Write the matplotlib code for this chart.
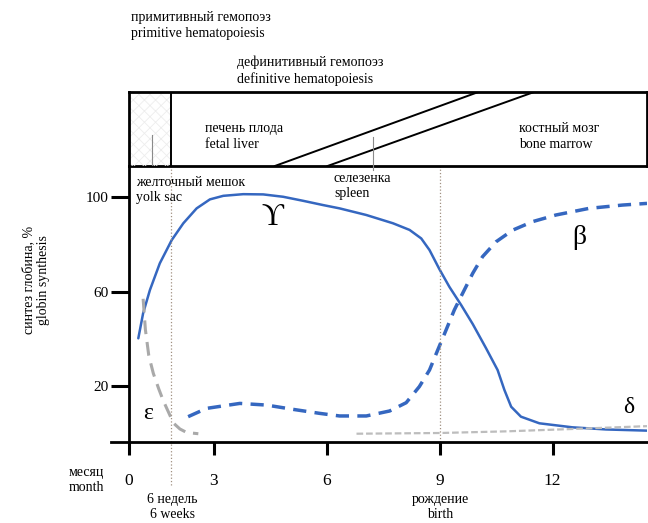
import numpy as np
import matplotlib.pyplot as plt

# ===============================
# data (months, % globin synthesis)
# ===============================
gamma_month = [0.33, 0.50, 0.74, 1.09, 1.51, 1.92, 2.39, 2.86, 3.25, 3.78, 4.31, 4.84,
               5.37, 5.90, 6.34, 7.05, 7.76, 8.20, 8.51, 8.73, 8.99, 9.26, 9.57, 9.88,
               10.23, 10.54, 10.72, 10.90, 11.16, 11.65, 12.53, 13.42, 14.51]
gamma_val = [40.3, 50.9, 60.7, 72.0, 81.8, 88.9, 95.2, 99.0, 100.5, 101.2, 101.1, 100.1,
             98.4, 96.6, 95.2, 92.4, 88.9, 86.1, 82.5, 77.6, 69.6, 62.0, 54.4, 46.3,
             36.2, 26.9, 18.5, 11.4, 7.2, 4.4, 2.7, 1.8, 1.3]

beta_month = [2.09, 2.74, 3.69, 4.40, 5.10, 5.81, 6.34, 7.05, 7.67, 8.11, 8.46, 8.73,
              8.95, 9.17, 9.39, 9.61, 9.88, 10.14, 10.50, 10.94, 11.47, 12.09, 12.97,
              13.86, 14.51]
beta_val = [7.2, 10.7, 12.8, 12.1, 10.3, 8.6, 7.5, 7.5, 9.6, 13.1, 19.9, 26.9,
            35.4, 43.8, 52.3, 59.3, 67.8, 74.8, 81.1, 86.0, 89.6, 92.4, 95.2,
            96.6, 97.3]

eps_month = [0.50, 0.58, 0.70, 0.86, 1.05, 1.21, 1.40, 1.57, 1.80, 2.04, 2.45]
eps_val = [57.0, 44.0, 33.0, 25.5, 19.0, 14.0, 9.0, 4.5, 2.0, 0.5, 0.0]

delta_month = [6.79, 9.00, 10.77, 12.53, 14.51]
delta_val = [0.0, 0.3, 1.0, 2.0, 3.2]

x_ticks = [0, 3, 6, 9, 12]
y_ticks = [20, 60, 100]

six_weeks = 1.5
birth = 9
# organ boundaries in the top strip: (month at bottom edge, month at top edge)
liver_spleen = (4.62, 10.03)
spleen_marrow = (6.02, 11.51)
yolk_pointer = 0.80
spleen_pointer = 7.22

# ===============================
# layout helpers (pixels -> figure fraction)
# ===============================
W, H = 648, 523
def fx(x):
    return x / W
def fy(y):
    return 1 - y / H

R = 85 / 113  # first 3 months drawn compressed
def fwd(m):
    m = np.asarray(m, float)
    return np.where(m < 3, m * R, 3 * R + (m - 3))
def inv(u):
    u = np.asarray(u, float)
    return np.where(u < 3 * R, u / R, u - 3 * R + 3)

SERIF = ["Liberation Serif", "DejaVu Serif"]
plt.rcParams["font.family"] = SERIF
plt.rcParams["hatch.linewidth"] = 0.6
BLUE = "#3567c0"
XMIN, XMAX = -0.635, 14.51

fig = plt.figure(figsize=(6.48, 5.23), dpi=100)
ax = fig.add_axes([fx(111), fy(442), fx(647) - fx(111), fy(166) - fy(442)])
box = fig.add_axes([fx(111), fy(166), fx(647) - fx(111), fy(92) - fy(166)])
for a in (ax, box):
    a.set_xscale("function", functions=(fwd, inv))
    a.set_xlim(XMIN, XMAX)
    a.patch.set_alpha(0)

# ===============================
# main chart
# ===============================
ax.set_ylim(-3.5, 113.1)
ax.plot(gamma_month, gamma_val, color=BLUE, lw=1.8, solid_joinstyle="round",
        solid_capstyle="round")
ax.plot(beta_month, beta_val, color=BLUE, lw=2.5, dashes=(3.8, 2.4),
        dash_joinstyle="round")
ax.plot(eps_month, eps_val, color="#a9a9a9", lw=2.2, dashes=(4.5, 2.6),
        dash_joinstyle="round")
ax.plot(delta_month, delta_val, color="#bdbdbd", lw=1.6, dashes=(3, 1.3))

ax.axvline(birth, color="#a09080", lw=0.9, ls=":")
ax.axvline(six_weeks, ymin=-0.156, ymax=1, color="#a09080", lw=0.9, ls=":", clip_on=False)

ax.spines["right"].set_visible(False)
ax.spines["left"].set_position(("data", 0))
ax.spines["top"].set_bounds(0, XMAX)
for s in ("left", "bottom", "top"):
    ax.spines[s].set_linewidth(2.0)

ax.set_xticks(x_ticks)
ax.set_xticklabels([str(t) for t in x_ticks], fontsize=12.5)
ax.set_yticks(y_ticks)
ax.set_yticklabels([str(t) for t in y_ticks], fontsize=11)
ax.tick_params(axis="x", direction="out", length=9.5, width=2.2, pad=13)
ax.tick_params(axis="y", direction="out", length=13, width=2.2, pad=2)

ax.text(4.56, 91.5, "ϒ", fontsize=22, ha="center", va="center")
ax.text(12.71, 82.7, "β", fontsize=20, ha="center", va="center")
ax.text(0.67, 8.7, "ε", fontsize=17, ha="center", va="center")
ax.text(14.03, 10.9, "δ", fontsize=17, ha="center", va="center")

# ===============================
# top strip: sites of hematopoiesis
# ===============================
box.set_ylim(0, 1)
box.set_yticks([])
box.tick_params(axis="x", bottom=False, labelbottom=False)
box.spines["bottom"].set_visible(False)
box.spines["left"].set_position(("data", 0))
box.spines["top"].set_bounds(0, XMAX)
for s in ("left", "top", "right"):
    box.spines[s].set_linewidth(2.0)

box.fill_betweenx([0, 1], 0, six_weeks, facecolor="none", edgecolor="#ededed",
                  hatch="xxx", lw=0)
box.axvline(six_weeks, color="black", lw=1.4)
box.plot(liver_spleen, [0, 1], color="black", lw=1.4)
box.plot(spleen_marrow, [0, 1], color="black", lw=1.4)
box.plot([yolk_pointer, yolk_pointer], [0.42, 0.0], color="#8a8a8a", lw=0.8)
box.plot([spleen_pointer, spleen_pointer], [0.39, -0.06], color="#8a8a8a", lw=0.8,
         clip_on=False)

box.text(fx(205 - 111) / (fx(647) - fx(111)), 0.405, "печень плода\nfetal liver",
         transform=box.transAxes, fontsize=10, va="center", linespacing=1.3)
box.text(fx(519 - 111) / (fx(647) - fx(111)), 0.405, "костный мозг\nbone marrow",
         transform=box.transAxes, fontsize=10, va="center", linespacing=1.3)

# ===============================
# free labels
# ===============================
fig.text(fx(131), fy(26), "примитивный гемопоэз\nprimitive hematopoiesis",
         fontsize=10, va="center", linespacing=1.3)
fig.text(fx(237), fy(71), "дефинитивный гемопоэз\ndefinitive hematopoiesis",
         fontsize=10, va="center", linespacing=1.3)
fig.text(fx(136), fy(190), "желточный мешок\nyolk sac", fontsize=10, va="center",
         linespacing=1.25)
fig.text(fx(334), fy(186), "селезенка\nspleen", fontsize=10, va="center",
         linespacing=1.25)
fig.text(fx(36), fy(280), "синтез глобина, %\nglobin synthesis", fontsize=10,
         rotation=90, ha="center", va="center", linespacing=1.2)
fig.text(fx(86), fy(480), "месяц\nmonth", fontsize=10, ha="center", va="center",
         linespacing=1.2)
fig.text(fx(172), fy(507), "6 недель\n6 weeks", fontsize=10, ha="center", va="center",
         linespacing=1.1)
fig.text(fx(440), fy(507), "рождение\nbirth", fontsize=10, ha="center", va="center",
         linespacing=1.1)

fig.savefig("out.png", dpi=100, facecolor="white")
